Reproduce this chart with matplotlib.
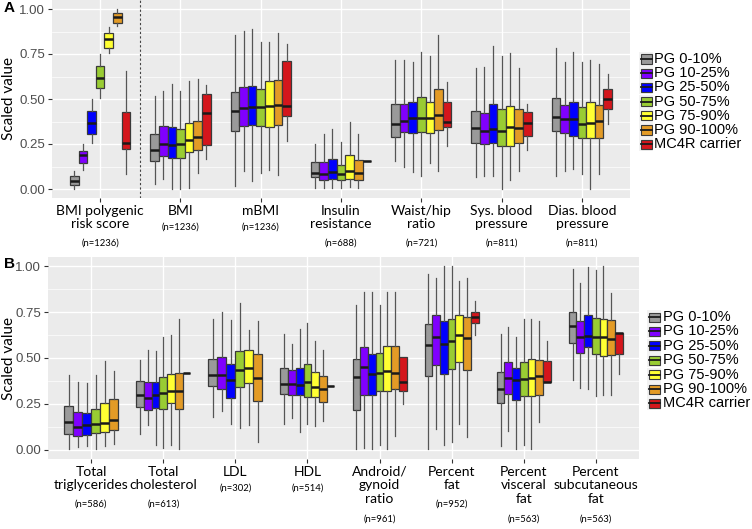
import numpy as np
import matplotlib.pyplot as plt
from matplotlib.patches import Rectangle
from matplotlib.lines import Line2D

W, H = 752, 529

groups = ['PG 0-10%', 'PG 10-25%', 'PG 25-50%', 'PG 50-75%',
          'PG 75-90%', 'PG 90-100%', 'MC4R carrier']
colors = ['#9a9a9a', '#8000ff', '#0000ff', '#99cc33',
          '#ffff33', '#e39b26', '#d4161c']

# each entry: (low whisker, Q1, median, Q3, high whisker), None = group absent
# ---- panel A ----
labels_a = ['BMI polygenic\nrisk score', 'BMI', 'mBMI', 'Insulin\nresistance',
            'Waist/hip\nratio', 'Sys. blood\npressure', 'Dias. blood\npressure']
n_a = ['(n=1236)', '(n=1236)', '(n=1236)', '(n=688)', '(n=721)', '(n=811)', '(n=811)']

prs = [(0.002, 0.02, 0.046, 0.075, 0.10), (0.103, 0.144, 0.19, 0.21, 0.25),
       (0.254, 0.308, 0.366, 0.431, 0.499), (0.503, 0.562, 0.615, 0.681, 0.748),
       (0.753, 0.783, 0.831, 0.866, 0.899), (0.904, 0.923, 0.956, 0.978, 1.0),
       (0.081, 0.223, 0.256, 0.427, 0.654)]
bmi = [(0.028, 0.153, 0.215, 0.304, 0.517), (0.053, 0.186, 0.25, 0.352, 0.545),
       (0.002, 0.171, 0.245, 0.343, 0.584), (0.002, 0.171, 0.25, 0.335, 0.545),
       (0.006, 0.208, 0.271, 0.366, 0.60), (0.09, 0.214, 0.291, 0.376, 0.613),
       (0.168, 0.247, 0.422, 0.527, 0.576)]
mbmi = [(0.015, 0.32, 0.433, 0.538, 0.858), (0.10, 0.35, 0.451, 0.565, 0.877),
        (0.042, 0.355, 0.457, 0.573, 0.89), (0.09, 0.352, 0.457, 0.558, 0.816),
        (0.103, 0.344, 0.459, 0.602, 0.818), (0.076, 0.357, 0.466, 0.606, 0.866),
        (0.265, 0.405, 0.46, 0.709, 0.805)]
insulin = [(0.007, 0.066, 0.088, 0.149, 0.252), (0.006, 0.048, 0.081, 0.149, 0.304),
           (0.006, 0.057, 0.092, 0.169, 0.333), (0.006, 0.052, 0.083, 0.133, 0.26),
           (0.009, 0.055, 0.099, 0.188, 0.374), (0.006, 0.05, 0.088, 0.16, 0.304),
           (0.157, 0.157, 0.157, 0.157, 0.157)]
waist = [(0.157, 0.289, 0.363, 0.47, 0.715), (0.125, 0.315, 0.376, 0.475, 0.715),
         (0.092, 0.311, 0.396, 0.481, 0.703), (0.074, 0.319, 0.396, 0.51, 0.76),
         (0.145, 0.313, 0.396, 0.484, 0.738), (0.098, 0.33, 0.413, 0.556, 0.853),
         (0.239, 0.346, 0.374, 0.481, 0.593)]
sysbp = [(0.068, 0.254, 0.341, 0.431, 0.67), (0.07, 0.25, 0.322, 0.425, 0.68),
         (0.07, 0.256, 0.333, 0.473, 0.794), (0.002, 0.239, 0.322, 0.444, 0.74),
         (0.048, 0.239, 0.344, 0.459, 0.757), (0.098, 0.254, 0.341, 0.444, 0.67),
         (0.219, 0.297, 0.368, 0.429, 0.471)]
diabp = [(0.07, 0.32, 0.401, 0.508, 0.786), (0.10, 0.309, 0.39, 0.468, 0.707),
         (0.112, 0.293, 0.39, 0.481, 0.76), (0.083, 0.282, 0.363, 0.453, 0.707),
         (0.002, 0.282, 0.368, 0.481, 0.718), (0.083, 0.282, 0.379, 0.468, 0.692),
         (0.363, 0.442, 0.501, 0.558, 0.639)]
panel_a = [prs, bmi, mbmi, insulin, waist, sysbp, diabp]

# ---- panel B ----
labels_b = ['Total\ntriglycerides', 'Total\ncholesterol', 'LDL', 'HDL',
            'Android/\ngynoid\nratio', 'Percent\nfat', 'Percent\nvisceral\nfat',
            'Percent\nsubcutaneous\nfat']
n_b = ['(n=586)', '(n=613)', '(n=302)', '(n=514)', '(n=961)', '(n=952)', '(n=563)', '(n=563)']

trig = [(0.002, 0.087, 0.149, 0.238, 0.405), (0.013, 0.074, 0.125, 0.205, 0.369),
        (0.02, 0.082, 0.133, 0.20, 0.365), (0.002, 0.091, 0.14, 0.22, 0.405),
        (0.02, 0.096, 0.145, 0.256, 0.481), (0.031, 0.109, 0.163, 0.278, 0.428), None]
chol = [(0.087, 0.234, 0.298, 0.374, 0.487), (0.133, 0.216, 0.283, 0.369, 0.541),
        (0.024, 0.229, 0.298, 0.372, 0.536), (0.009, 0.223, 0.307, 0.394, 0.612),
        (0.027, 0.256, 0.323, 0.414, 0.623), (0.002, 0.223, 0.32, 0.421, 0.71),
        (0.416, 0.416, 0.416, 0.416, 0.416)]
ldl = [(0.178, 0.35, 0.41, 0.496, 0.71), (0.214, 0.332, 0.407, 0.507, 0.753),
       (0.143, 0.283, 0.378, 0.467, 0.706), (0.12, 0.343, 0.432, 0.539, 0.797),
       (0.134, 0.363, 0.448, 0.541, 0.655), (0.045, 0.265, 0.389, 0.523, 0.70), None]
hdl = [(0.138, 0.303, 0.359, 0.448, 0.632), (0.174, 0.296, 0.359, 0.437, 0.574),
       (0.096, 0.296, 0.354, 0.448, 0.659), (0.143, 0.285, 0.372, 0.465, 0.688),
       (0.129, 0.289, 0.34, 0.425, 0.595), (0.156, 0.261, 0.332, 0.401, 0.541),
       (0.35, 0.35, 0.35, 0.35, 0.35)]
android = [(0.002, 0.218, 0.394, 0.492, 0.786), (0.009, 0.30, 0.45, 0.559, 0.857),
           (0.002, 0.30, 0.414, 0.523, 0.859), (0.025, 0.318, 0.418, 0.528, 0.786),
           (0.002, 0.323, 0.427, 0.565, 0.859), (0.074, 0.33, 0.421, 0.565, 0.859),
           (0.252, 0.321, 0.369, 0.507, 0.507)]
pfat = [(0.002, 0.401, 0.57, 0.686, 0.96), (0.111, 0.461, 0.615, 0.735, 0.937),
        (0.024, 0.412, 0.574, 0.704, 1.0), (0.045, 0.441, 0.59, 0.714, 1.0),
        (0.142, 0.479, 0.623, 0.733, 0.92), (0.071, 0.436, 0.608, 0.723, 0.933),
        (0.623, 0.692, 0.723, 0.752, 0.813)]
visc = [(0.02, 0.256, 0.33, 0.425, 0.628), (0.10, 0.305, 0.39, 0.479, 0.67),
        (0.007, 0.269, 0.379, 0.448, 0.615), (0.025, 0.292, 0.383, 0.479, 0.714),
        (0.002, 0.292, 0.39, 0.492, 0.71), (0.153, 0.30, 0.401, 0.487, 0.704),
        (0.37, 0.37, 0.372, 0.483, 0.595)]
subc = [(0.378, 0.583, 0.675, 0.752, 0.986), (0.336, 0.527, 0.614, 0.703, 0.908),
        (0.33, 0.559, 0.621, 0.735, 0.997), (0.292, 0.523, 0.617, 0.717, 0.98),
        (0.298, 0.512, 0.614, 0.712, 1.0), (0.301, 0.516, 0.606, 0.708, 0.853),
        (0.414, 0.523, 0.634, 0.637, 0.637)]
panel_b = [trig, chol, ldl, hdl, android, pfat, visc, subc]


def px_rect(l, t, r, b):
    return [l / W, 1 - b / H, (r - l) / W, (b - t) / H]


def draw_panel(ax, data, labels, ns, left_px, width_px):
    ax.set_facecolor('#ebebeb')
    for s in ax.spines.values():
        s.set_visible(False)
    ax.set_xlim(-0.6, len(data) - 0.4)
    ax.set_ylim(-0.05, 1.05)
    ax.set_yticks([0, 0.25, 0.5, 0.75, 1.0])
    ax.set_yticklabels(['0.00', '0.25', '0.50', '0.75', '1.00'])
    ax.set_yticks([0.125, 0.375, 0.625, 0.875], minor=True)
    ax.set_xticks(range(len(data)))
    ax.set_xticklabels([])
    ax.grid(True, which='major', color='white', linewidth=1.0)
    ax.grid(True, which='minor', axis='y', color='white', linewidth=0.5)
    ax.set_axisbelow(True)
    ax.tick_params(which='major', length=3, color='#333333', labelcolor='#4d4d4d',
                   labelsize=9.5, pad=2)
    ax.tick_params(which='minor', length=0)
    for lab in ax.get_yticklabels():
        lab.set_family('Liberation Sans')
    ax.set_ylabel('Scaled value', fontsize=11, family='Lato')
    # right edge of the rotated label about 16 px from the figure's left edge
    ax.yaxis.set_label_coords((16 - left_px) / width_px, 0.5)

    for i, cat in enumerate(data):
        present = [j for j, st in enumerate(cat) if st is not None]
        w = 0.75 / len(present)
        for k, j in enumerate(present):
            lo, q1, med, q3, hi = cat[j]
            pos = i - 0.375 + (k + 0.5) * w
            st = [dict(whislo=lo, q1=q1, med=med, q3=q3, whishi=hi, fliers=[])]
            ax.bxp(st, positions=[pos], widths=w, patch_artist=True,
                   showfliers=False, showcaps=False, manage_ticks=False,
                   boxprops=dict(facecolor=colors[j], edgecolor='#3a3a3a', linewidth=0.9),
                   medianprops=dict(color='#1a1a1a', linewidth=1.8),
                   whiskerprops=dict(color='#555555', linewidth=0.9))

    for i, (lab, n) in enumerate(zip(labels, ns)):
        nl = lab.count('\n') + 1
        ax.annotate(lab, xy=(i, 0), xycoords=('data', 'axes fraction'),
                    xytext=(0, -5), textcoords='offset points', ha='center', va='top',
                    fontsize=10, family='Lato', linespacing=1.15)
        ax.annotate(n, xy=(i, 0), xycoords=('data', 'axes fraction'),
                    xytext=(0, -(14 + nl * 15.5) * 0.72), textcoords='offset points',
                    ha='center', va='center', fontsize=6.8, family='Lato')


def draw_legend(fig, kx, ty, tx, step):
    for j, g in enumerate(groups):
        cy = ty + j * step
        fig.patches.append(Rectangle(((kx - 7) / W, 1 - (cy + 7) / H), 14 / W, 14 / H,
                                     transform=fig.transFigure, facecolor='#f2f2f2',
                                     edgecolor='none', zorder=1))
        fig.patches.append(Rectangle(((kx - 5.5) / W, 1 - (cy + 4.5) / H), 11 / W, 9 / H,
                                     transform=fig.transFigure, facecolor=colors[j],
                                     edgecolor='#3a3a3a', linewidth=0.8, zorder=2))
        fig.lines.append(Line2D([(kx - 5.5) / W, (kx + 5.5) / W], [1 - cy / H, 1 - cy / H],
                                transform=fig.transFigure, color='#1a1a1a',
                                linewidth=1.3, zorder=3))
        fig.text(tx / W, 1 - cy / H, g, ha='left', va='center', fontsize=10.5,
                 family='Liberation Sans', color='black')


fig = plt.figure(figsize=(W / 100, H / 100), dpi=100)

ax_a = fig.add_axes(px_rect(52, 0, 630, 198))
draw_panel(ax_a, panel_a, labels_a, n_a, 52, 578)
ax_a.axvline(0.5, color='#444444', linestyle=(0, (2, 2)), linewidth=0.8)

ax_b = fig.add_axes(px_rect(48, 257, 639, 459))
draw_panel(ax_b, panel_b, labels_b, n_b, 48, 591)

draw_legend(fig, 646, 59, 654, 14.2)
draw_legend(fig, 654, 317, 663, 14.4)

fig.text(4 / W, 1 - 8 / H, 'A', fontsize=11, fontweight='bold', va='center',
         family='Liberation Sans')
fig.text(4 / W, 1 - 264 / H, 'B', fontsize=11, fontweight='bold', va='center',
         family='Liberation Sans')

fig.savefig('out.png', dpi=100)
